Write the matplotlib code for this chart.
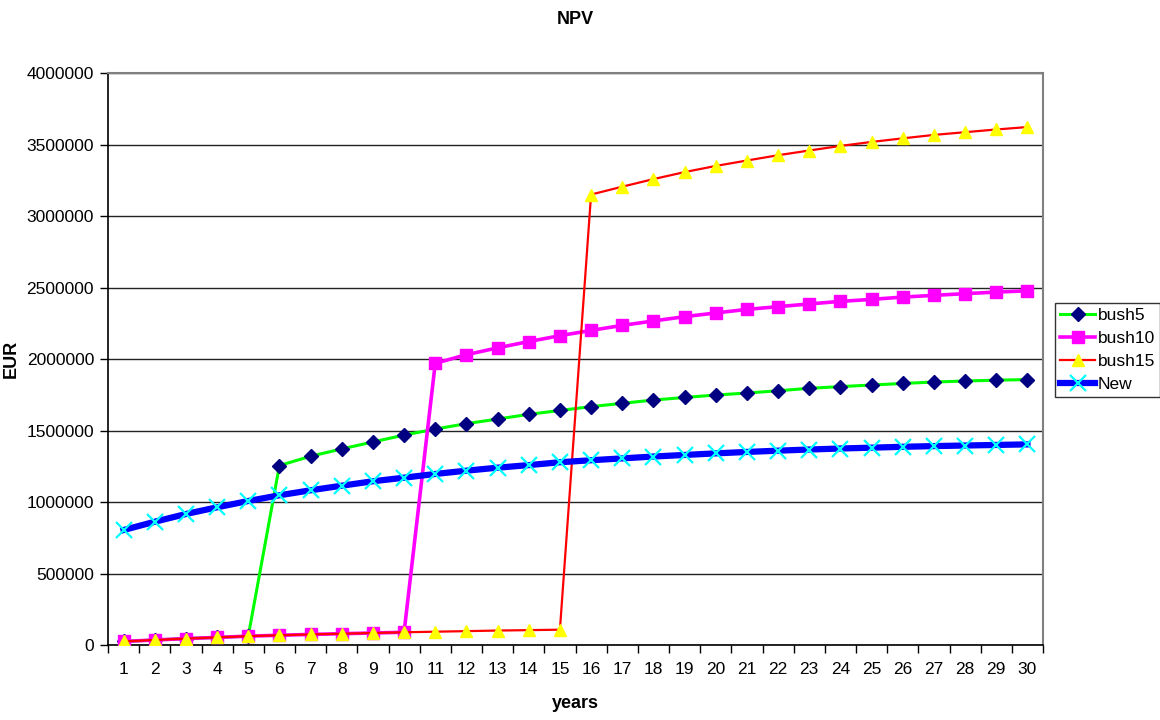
import matplotlib
matplotlib.use("Agg")
import matplotlib.pyplot as plt

plt.rcParams['font.family'] = ['Liberation Sans', 'DejaVu Sans']

years = list(range(1, 31))

low = [25000, 35000, 45000, 53000, 62000, 68000, 74000, 79000, 84000, 89000,
       93000, 97000, 101000, 104000, 107000]

bush5 = low[:5] + [1255000, 1320000, 1371000, 1420000, 1468000, 1510000, 1548000,
                   1580000, 1613000, 1640000, 1667000, 1690000, 1713000, 1731000,
                   1748000, 1762000, 1778000, 1795000, 1807000, 1818000, 1829000,
                   1839000, 1846000, 1852000, 1856000]

bush10 = low[:10] + [1970000, 2030000, 2078000, 2122000, 2163000, 2200000, 2235000,
                     2266000, 2296000, 2322000, 2347000, 2366000, 2385000, 2403000,
                     2417000, 2433000, 2445000, 2457000, 2468000, 2477000]

bush15 = low[:15] + [3150000, 3205000, 3258000, 3307000, 3350000, 3388000, 3425000,
                     3458000, 3490000, 3518000, 3543000, 3567000, 3586000, 3605000,
                     3622000]

new = [804000, 862000, 916000, 963000, 1007000, 1047000, 1082000, 1114000, 1145000,
       1170000, 1196000, 1219000, 1240000, 1258000, 1278000, 1292000, 1305000,
       1318000, 1329000, 1340000, 1350000, 1359000, 1367000, 1374000, 1380000,
       1386000, 1391000, 1395000, 1399000, 1403000]

yticks = list(range(0, 4000001, 500000))

fig = plt.figure(figsize=(11.6, 7.2), dpi=100)
ax = fig.add_axes([108/1160, 1 - 645/720, (1043-108)/1160, (645-73)/720])

ax.plot(years, bush5, color='#00ff00', lw=2.2, marker='D', ms=7.5,
        mfc='#000080', mec='#000080', label='bush5', zorder=3)
ax.plot(years, bush10, color='#ff00ff', lw=2.6, marker='s', ms=9,
        mfc='#ff00ff', mec='#ff00ff', label='bush10', zorder=4)
ax.plot(years, bush15, color='#ff0000', lw=1.6, marker='^', ms=8,
        mfc='#ffff00', mec='#ffff00', label='bush15', zorder=5)
ax.plot(years, new, color='#0000ff', lw=4.5, marker='x', ms=11, mew=1.6,
        mfc='#00ffff', mec='#00ffff', label='New', zorder=6)

ax.set_xlim(0.5, 30.5)
ax.set_ylim(0, 4000000)
ax.set_yticks(yticks)
ax.set_yticklabels([str(v) for v in yticks], fontsize=12.5)
ax.set_xticks(years)
ax.set_xticklabels([str(y) for y in years], fontsize=12.5)
ax.set_xticks([y + 0.5 for y in range(0, 31)], minor=True)
ax.tick_params(axis='x', which='major', length=0, pad=12)
ax.tick_params(axis='x', which='minor', length=6, direction='out', width=1)
ax.tick_params(axis='y', length=6, direction='out', width=1, pad=4)

ax.yaxis.grid(True, color='#222222', lw=1)
ax.set_axisbelow(True)
for s in ['top', 'right']:
    ax.spines[s].set_color('#808080')
    ax.spines[s].set_linewidth(1.5)
for s in ['left', 'bottom']:
    ax.spines[s].set_color('black')
    ax.spines[s].set_linewidth(1.2)

ax.set_title('NPV', fontsize=13, fontweight='bold', pad=35)
ax.set_xlabel('years', fontsize=13, fontweight='bold', labelpad=13)
ax.set_ylabel('EUR', fontsize=13, fontweight='bold', labelpad=5)

leg = ax.legend(loc='upper left', bbox_to_anchor=(1055/1160, 1 - 303/720),
                bbox_transform=fig.transFigure, frameon=True, fancybox=False,
                edgecolor='black', fontsize=12.5, handlelength=2.0,
                handletextpad=0.15, borderpad=0.3, labelspacing=0.45,
                borderaxespad=0)
leg.get_frame().set_linewidth(1)

fig.savefig('out.png', dpi=100)
